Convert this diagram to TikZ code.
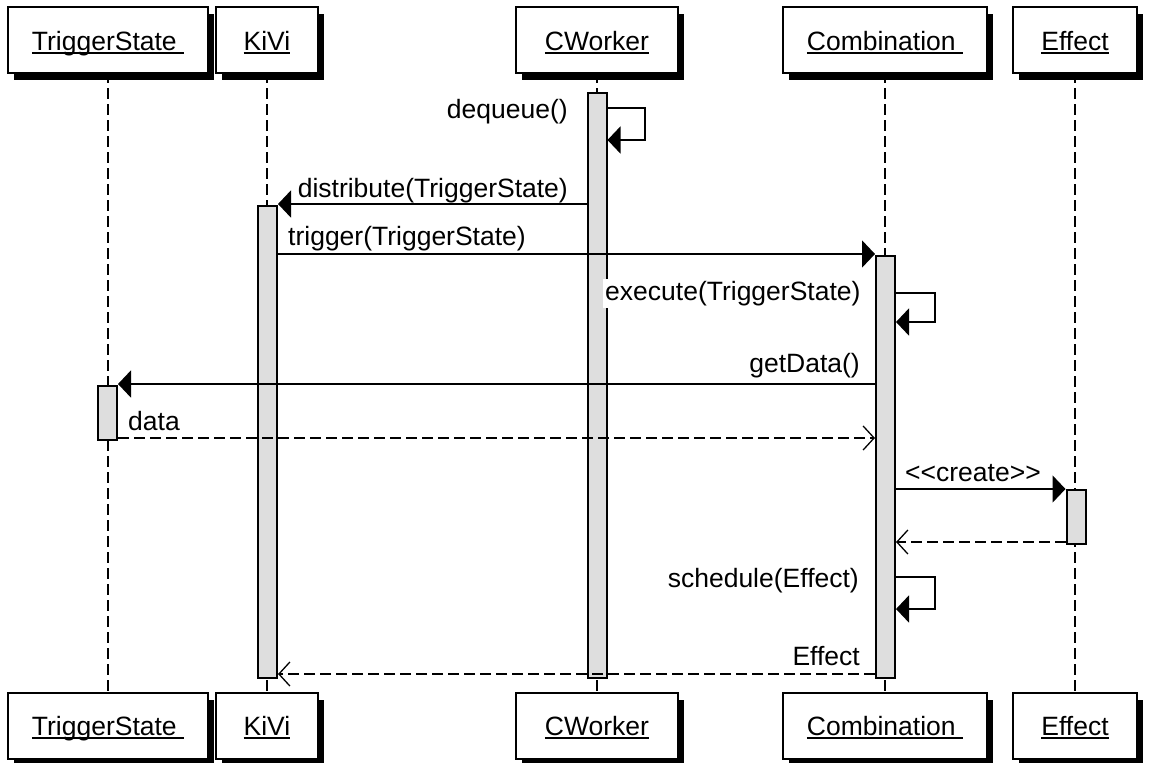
\documentclass[tikz,border=0pt]{standalone}
\usepackage{fontspec}
\setmainfont{Liberation Sans}
\usetikzlibrary{arrows.meta,shadows,backgrounds}
\definecolor{barfill}{RGB}{222,222,222}
% object name, underlined
\newcommand\objname[1]{\setbox0\hbox{#1}\rlap{\rule[-3.5pt]{\wd0}{2pt}}\box0}

\begin{document}
\begin{tikzpicture}[x=1pt,y=-1pt,
  txt/.style={font=\fontsize{26.5}{32}\selectfont, inner sep=0pt},
  objbox/.style={txt, draw, line width=2pt, fill=white, minimum height=66pt,
    text height=20pt, text depth=0pt,
    drop shadow={shadow xshift=6pt, shadow yshift=-7pt, fill=black, opacity=1}},
  lifeline/.style={line width=2pt, dash pattern=on 11pt off 5pt},
  actbar/.style={draw, line width=2pt, fill=barfill, minimum width=19pt,
    inner sep=0pt, anchor=north},
  call/.style={line width=2pt, -{Triangle[length=13pt,width=27pt]}},
  reply/.style={line width=2pt, dash pattern=on 11pt off 5pt,
    -{Straight Barb[length=11pt,width=24pt,line width=1.3pt]}},
]
\useasboundingbox (0,0) rectangle (1149,763);

% objects, top row
\node[objbox, minimum width=200pt] (tsTop)   at (108,40)  {\objname{TriggerState\ }};
\node[objbox, minimum width=102pt] (kiviTop) at (267,40)  {\objname{KiVi}};
\node[objbox, minimum width=162pt] (cwTop)   at (597,40)  {\objname{CWorker}};
\node[objbox, minimum width=204pt] (combTop) at (885,40)  {\objname{Combination\ }};
\node[objbox, minimum width=124pt] (effTop)  at (1075,40) {\objname{Effect}};

% objects, bottom row
\node[objbox, minimum width=200pt] (tsBot)   at (108,725.5)  {\objname{TriggerState\ }};
\node[objbox, minimum width=102pt] (kiviBot) at (267,725.5)  {\objname{KiVi}};
\node[objbox, minimum width=162pt] (cwBot)   at (597,725.5)  {\objname{CWorker}};
\node[objbox, minimum width=204pt] (combBot) at (885,725.5)  {\objname{Combination\ }};
\node[objbox, minimum width=124pt] (effBot)  at (1075,725.5) {\objname{Effect}};

% lifelines
\begin{scope}[on background layer]
  \draw[lifeline] (tsTop.center)   -- (tsBot.center);
  \draw[lifeline] (kiviTop.center) -- (kiviBot.center);
  \draw[lifeline] (cwTop.center)   -- (cwBot.center);
  \draw[lifeline] (combTop.center) -- (combBot.center);
  \draw[lifeline] (effTop.center)  -- (effBot.center);
\end{scope}

% activation bars
\node[actbar, minimum height=585pt] (cwBar)   at (597,92)   {};
\node[actbar, minimum height=472pt] (kiviBar) at (267.5,205) {};
\node[actbar, minimum height=422pt] (combBar) at (885.5,255) {};
\node[actbar, minimum height=54pt]  (tsBar)   at (107.5,385) {};
\node[actbar, minimum height=54pt]  (effBar)  at (1076,489)  {};

% dequeue()
\coordinate (dqA) at (cwBar.east |- 0,108);
\coordinate (dqB) at (cwBar.east |- 0,140);
\draw[call] (dqA) -- ++(37,0) |- (dqB);
\node[txt, anchor=base east] (lblDequeue) at (568,118) {dequeue()};

% distribute(TriggerState)
\draw[call] (cwBar.west |- 0,204) -- (kiviBar.east |- 0,204);
\node[txt, anchor=base east] (lblDistribute) at (568,197) {distribute(TriggerState)};

% trigger(TriggerState)
\draw[call] (kiviBar.east |- 0,254) -- (combBar.west |- 0,254);
\node[txt, anchor=base west] (lblTrigger) at (288,245) {trigger(TriggerState)};

% execute(TriggerState)
\coordinate (exA) at (combBar.east |- 0,293);
\coordinate (exB) at (combBar.east |- 0,322);
\draw[call] (exA) -- ++(39,0) |- (exB);
\node[txt, anchor=base west, fill=white, inner sep=2pt] (lblExecute) at (603,300) {execute(TriggerState)};

% getData()
\draw[call] (combBar.west |- 0,384) -- (tsBar.east |- 0,384);
\node[txt, anchor=base east] (lblGetData) at (860,372) {getData()};

% data
\draw[reply] (tsBar.east |- 0,438) -- (combBar.west |- 0,438);
\node[txt, anchor=base west] (lblData) at (128,430) {data};

% <<create>>
\draw[call] (combBar.east |- 0,489) -- (effBar.west |- 0,489);
\node[txt, anchor=base west] (lblCreate) at (905,481) {<{}<create>{}>};

% return from Effect
\draw[reply] (effBar.west |- 0,542) -- (combBar.east |- 0,542);

% schedule(Effect)
\coordinate (scA) at (combBar.east |- 0,577);
\coordinate (scB) at (combBar.east |- 0,609);
\draw[call] (scA) -- ++(39,0) |- (scB);
\node[txt, anchor=base east] (lblSchedule) at (859,587) {schedule(Effect)};

% Effect
\draw[reply] (combBar.west |- 0,674) -- (kiviBar.east |- 0,674);
\node[txt, anchor=base east] (lblEffect) at (860,665) {Effect};
\end{tikzpicture}
\end{document}
